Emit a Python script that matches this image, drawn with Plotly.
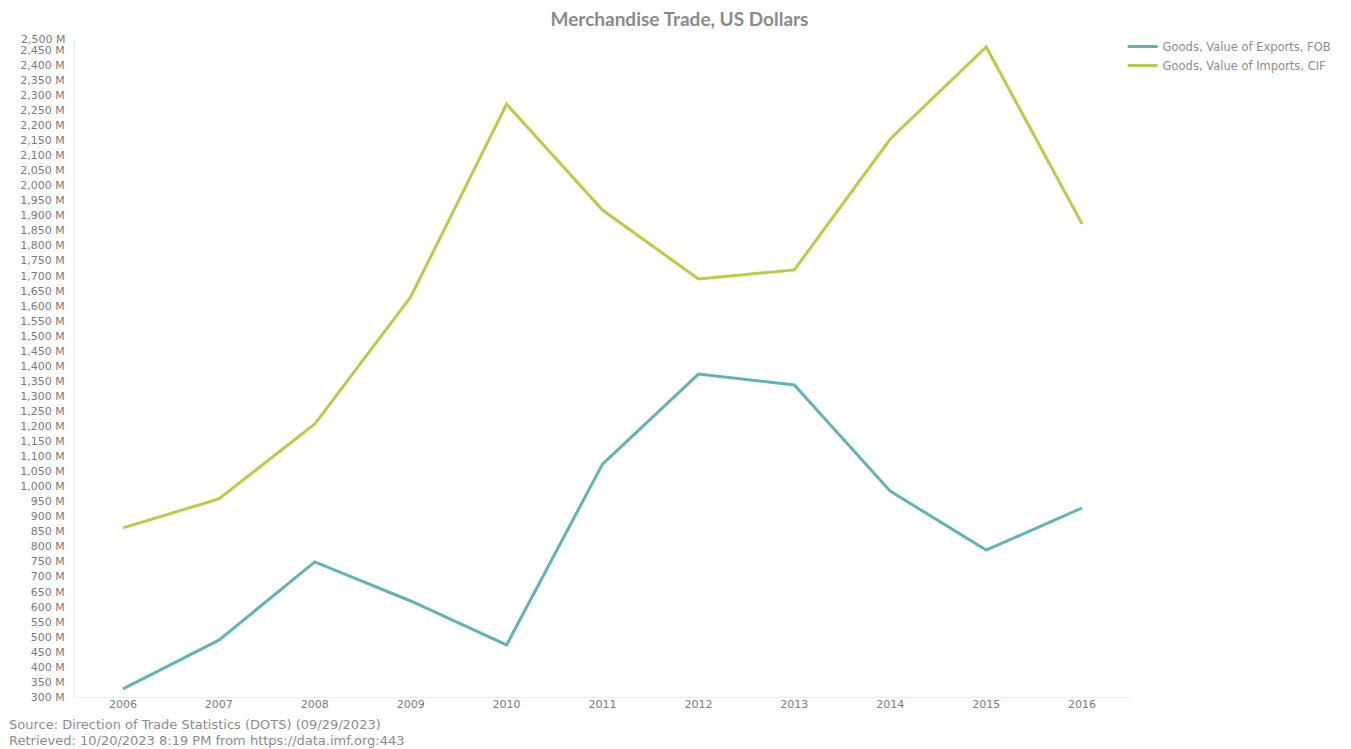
import plotly.graph_objects as go

years = ["2006", "2007", "2008", "2009", "2010", "2011", "2012", "2013", "2014", "2015", "2016"]
exports = [327, 489, 749, 619, 473, 1074, 1373, 1337, 984, 788, 928]
imports = [862, 958, 1207, 1629, 2270, 1918, 1689, 1719, 2154, 2460, 1872]
tick_vals = list(range(300, 2451, 50))
tick_text = [f"{v:,} M" for v in tick_vals]

W, H = 1343, 741
L, R, T, B = 59, 221, 32, 52
pw, ph = W - L - R, H - T - B

fig = go.Figure()
fig.add_trace(go.Scatter(x=years, y=exports, mode="lines", name="Goods, Value of Exports, FOB",
                         line=dict(color="#62b3b4", width=3)))
fig.add_trace(go.Scatter(x=years, y=imports, mode="lines", name="Goods, Value of Imports, CIF",
                         line=dict(color="#b3cf47", width=3)))

tick_font = dict(family="DejaVu Sans, sans-serif", size=11, color="#7a7a7a")
src_font = dict(size=13, color="#8c8c8c", family="DejaVu Sans, sans-serif")

fig.update_layout(
    width=W, height=H,
    margin=dict(l=L, r=R, t=T, b=B),
    paper_bgcolor="white", plot_bgcolor="white",
    font=dict(family="DejaVu Sans, sans-serif", color="#808080", size=11),
    title=dict(text="<b>Merchandise Trade, US Dollars</b>", x=0.5, xref="container", xanchor="center",
               y=1 - 11.5 / H, yref="container", yanchor="middle",
               font=dict(size=19, color="#8a8a8a", family="Lato, sans-serif")),
    legend=dict(x=0.993, y=1.012, xanchor="left", yanchor="top",
                font=dict(size=11.5, color="#8c8c8c", family="DejaVu Sans, sans-serif"),
                bgcolor="rgba(0,0,0,0)", tracegroupgap=0, itemwidth=30),
    xaxis=dict(type="category", range=[-0.5, 10.5], showgrid=False, showline=True, linecolor="#ececec",
               linewidth=1, ticks="", tickfont=tick_font, zeroline=False, ticklabelstandoff=-3),
    yaxis=dict(range=[300, 2483], tickvals=tick_vals, ticktext=tick_text, showgrid=False, showline=True,
               linecolor="#ececec", linewidth=1, ticks="", tickfont=tick_font, zeroline=False,
               ticklabelstandoff=7),
    annotations=[
        dict(text="2,500 M", xref="paper", yref="paper", x=0, y=1.0, xanchor="right", yanchor="middle",
             xshift=-8, yshift=1, showarrow=False, font=tick_font),
        dict(text="Source: Direction of Trade Statistics (DOTS) (09/29/2023)",
             xref="paper", yref="paper", x=-L / pw, y=-(716 - 689) / ph, xanchor="left", yanchor="middle",
             xshift=-9, align="left", showarrow=False, font=src_font),
        dict(text="Retrieved: 10/20/2023 8:19 PM from https://data.imf.org:443",
             xref="paper", yref="paper", x=-L / pw, y=-(732 - 689) / ph, xanchor="left", yanchor="middle",
             xshift=-9, align="left", showarrow=False, font=src_font),
    ],
)

fig.write_html("out.html")
